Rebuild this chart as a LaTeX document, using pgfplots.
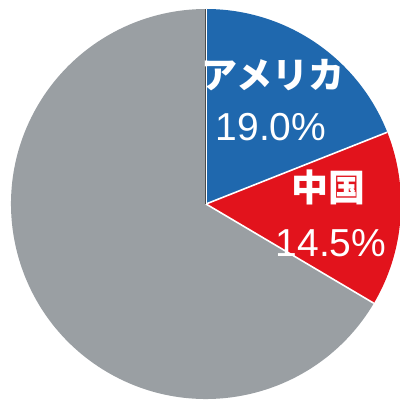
\documentclass[border=0pt]{standalone}
\usepackage{pgfplots}
\pgfplotsset{compat=1.18}
\usepackage{fontspec}
\setmainfont{Liberation Sans}
\newfontfamily\jp{Noto Sans CJK JP}

\definecolor{usblue}{HTML}{1F68AE}
\definecolor{cnred}{HTML}{E2131C}
\definecolor{restgray}{HTML}{9A9FA3}

% shares in percent, drawn clockwise from 12 o'clock
\def\usshare{19.0}
\def\cnshare{14.5}
\def\restshare{66.5}

\begin{document}
\begin{tikzpicture}
\useasboundingbox (0,0) rectangle (400bp,401bp);
\clip (0,0) rectangle (400bp,401bp);
\begin{axis}[
    at={(206bp,197bp)}, anchor=origin,
    scale only axis, width=390bp, height=390bp,
    xmin=-1, xmax=1, ymin=-1, ymax=1,
    hide axis, clip=false]
  \pgfmathsetmacro{\aA}{90}
  \pgfmathsetmacro{\aB}{\aA-3.6*\usshare}
  \pgfmathsetmacro{\aC}{\aB-3.6*\cnshare}
  \pgfmathsetmacro{\aD}{\aC-3.6*\restshare}
  \fill[restgray] (axis cs:0,0) -- (axis cs:{cos(\aC)},{sin(\aC)})
      arc[start angle=\aC, end angle=\aD, radius=195bp] -- cycle;
  \fill[usblue] (axis cs:0,0) -- (axis cs:{cos(\aA)},{sin(\aA)})
      arc[start angle=\aA, end angle=\aB, radius=195bp] -- cycle;
  \fill[cnred] (axis cs:0,0) -- (axis cs:{cos(\aB)},{sin(\aB)})
      arc[start angle=\aB, end angle=\aC, radius=195bp] -- cycle;
  \draw[white, line width=1.6bp] (axis cs:0,0) -- (axis cs:{cos(\aB)},{sin(\aB)});
  \draw[white, line width=1.6bp] (axis cs:0,0) -- (axis cs:{cos(\aC)},{sin(\aC)});
  \draw[white, line width=1.6bp] (axis cs:0,0) -- (axis cs:0,1);
  \draw[black!70, line width=0.6bp] (axis cs:-0.006,0) -- (axis cs:-0.006,1);
  \node[white, font=\jp\bfseries\fontsize{36bp}{38bp}\selectfont] at (axis cs:0.344,0.662) {アメリカ};
  \node[white, font=\fontsize{39bp}{41bp}\selectfont] at (axis cs:0.333,0.395) {\usshare\%};
  \node[white, font=\jp\bfseries\fontsize{37bp}{39bp}\selectfont] at (axis cs:0.626,0.087) {中国};
  \node[white, font=\fontsize{39bp}{41bp}\selectfont] at (axis cs:0.641,-0.20) {\cnshare\%};
\end{axis}
\end{tikzpicture}
\end{document}
